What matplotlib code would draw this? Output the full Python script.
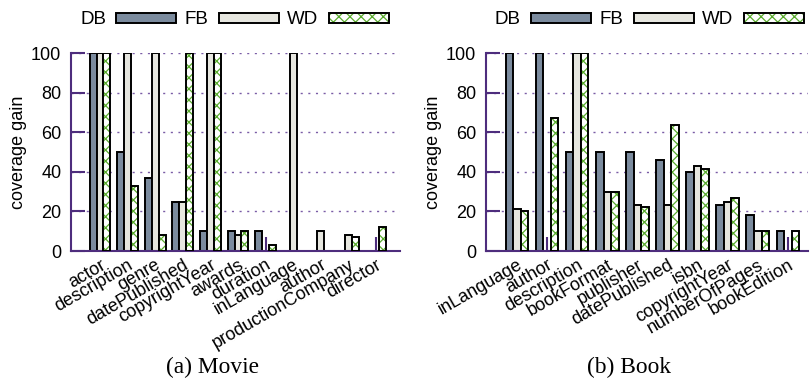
import numpy as np
import matplotlib
matplotlib.use("Agg")
import matplotlib.pyplot as plt
from matplotlib.patches import Patch
from matplotlib.legend_handler import HandlerTuple

plt.rcParams['font.family'] = ['Liberation Sans', 'DejaVu Sans']
plt.rcParams['hatch.linewidth'] = 0.9

# data (coverage gain per property, DB / FB / WD)
movie_props = ["actor", "description", "genre", "datePublished", "copyrightYear",
               "awards", "duration", "inLanguage", "author", "productionCompany", "director"]
movie_db = [100, 50, 37, 25, 10, 10, 10, 0, 0, 0, 0]
movie_fb = [100, 100, 100, 25, 100, 8, 0, 100, 10, 8, 0]
movie_wd = [100, 33, 8, 100, 100, 10, 3, 0, 0, 7.3, 12.3]

book_props = ["inLanguage", "author", "description", "bookFormat", "publisher",
              "datePublished", "isbn", "copyrightYear", "numberOfPages", "bookEdition"]
book_db = [100, 100, 50, 50, 50, 46, 40, 23, 18, 10]
book_fb = [21, 0, 100, 30, 23, 23, 43, 25, 10, 0]
book_wd = [20, 67, 100, 30, 22, 63.5, 41.5, 27, 10, 10]

series_names = ["DB", "FB", "WD"]

# styling
c_db = "#7b8b9e"
c_fb = "#e6e6df"
c_hatch = "#5aab2e"
c_axis = "#4e2d7d"
c_grid = "#7a5ca6"
bw = 0.25
lw = 1.4
fs = 13

fig = plt.figure(figsize=(8.11, 3.79), dpi=100)
ax1 = fig.add_axes([71/811, 1-251/379, (400-71)/811, 198/379])
ax2 = fig.add_axes([486/811, 1-251/379, (808-486)/811, 198/379])


def nz(v):
    v = np.asarray(v, dtype=float)
    return np.where(v > 0, v, np.nan)


def draw(ax, props, db, fb, wd, xlim):
    x = np.arange(len(props))
    ax.set_axisbelow(True)
    ax.bar(x - bw, nz(db), bw, color=c_db, edgecolor='black', linewidth=lw, zorder=2)
    ax.bar(x, nz(fb), bw, color=c_fb, edgecolor='black', linewidth=lw, zorder=2)
    ax.bar(x + bw, nz(wd), bw, color='white', edgecolor=c_hatch, hatch='xxx',
           linewidth=0, zorder=2)
    ax.bar(x + bw, nz(wd), bw, fill=False, edgecolor='black', linewidth=lw, zorder=3)

    ax.set_xlim(*xlim)
    ax.set_ylim(0, 100)
    ax.set_yticks([0, 20, 40, 60, 80, 100])
    ax.set_xticks(x)
    ax.set_xticklabels(props, rotation=30, ha='right', va='top',
                       rotation_mode='anchor', fontsize=fs)
    ax.tick_params(axis='both', direction='in', length=10, width=1.5,
                   color=c_axis, labelsize=fs)
    ax.tick_params(axis='x', pad=4)
    ax.tick_params(axis='y', pad=7)
    for s in ['top', 'right']:
        ax.spines[s].set_visible(False)
    for s in ['left', 'bottom']:
        ax.spines[s].set_color(c_axis)
        ax.spines[s].set_linewidth(1.5)
    ax.yaxis.grid(True, color=c_grid, linestyle=(0, (1.5, 4)), linewidth=1.0)
    ax.set_ylabel("coverage gain", fontsize=fs, labelpad=3)

    h_db = Patch(facecolor=c_db, edgecolor='black', linewidth=lw)
    h_fb = Patch(facecolor=c_fb, edgecolor='black', linewidth=lw)
    h_wd = (Patch(facecolor='white', edgecolor=c_hatch, hatch='xxx', linewidth=0),
            Patch(fill=False, edgecolor='black', linewidth=lw))
    return [h_db, h_fb, h_wd]


handles = draw(ax1, movie_props, movie_db, movie_fb, movie_wd, (-1.05, 10.87))
draw(ax2, book_props, book_db, book_fb, book_wd, (-1.03, 9.67))

for anchor_x in (80/811, 495/811):
    fig.legend(handles, series_names, loc='center left',
               bbox_to_anchor=(anchor_x, 1-20/379), bbox_transform=fig.transFigure,
               ncol=3, frameon=False, markerfirst=False, fontsize=13.5,
               handlelength=3.2, handleheight=0.5, handletextpad=0.55,
               columnspacing=0.45, borderpad=0, borderaxespad=0,
               handler_map={tuple: HandlerTuple(ndivide=1, pad=0)})

fig.text(212/811, 1-367/379, "(a) Movie", ha='center', va='center',
         family=['Liberation Serif', 'DejaVu Serif'], fontsize=16.8)
fig.text(629/811, 1-367/379, "(b) Book", ha='center', va='center',
         family=['Liberation Serif', 'DejaVu Serif'], fontsize=16.8)

fig.savefig("out.png", dpi=100)
